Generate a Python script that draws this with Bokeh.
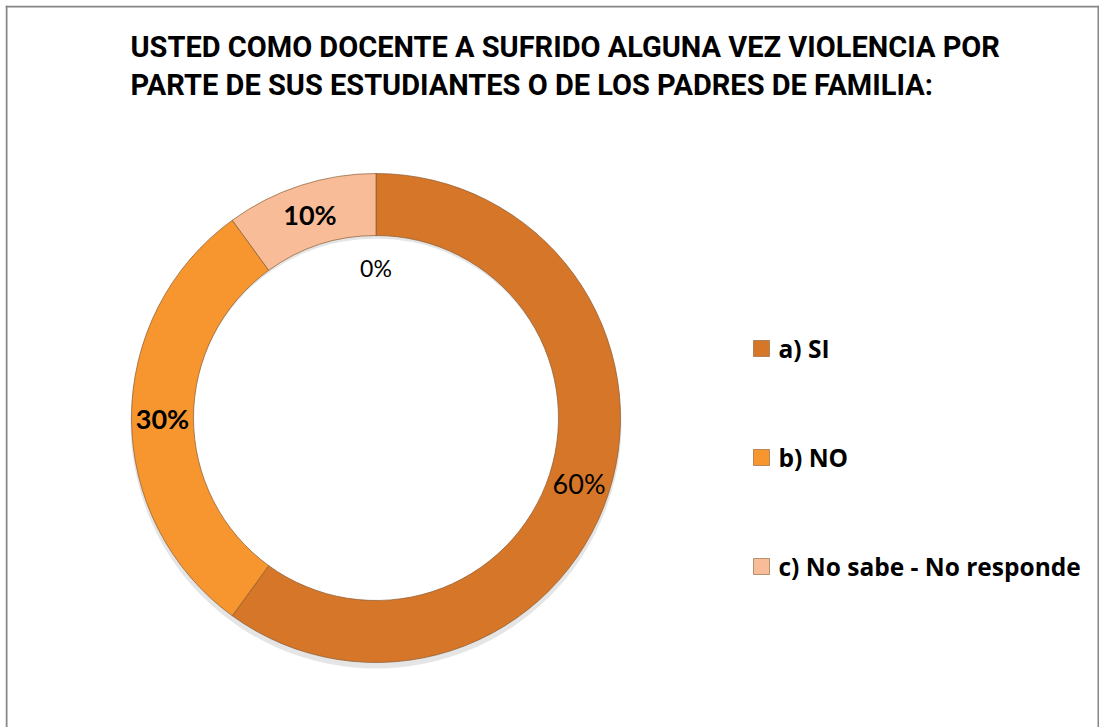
import numpy as np
from bokeh.plotting import figure
from bokeh.models import Range1d, ColumnDataSource, Span
from bokeh.core.properties import value
from bokeh.embed import file_html
from bokeh.resources import INLINE

# ---------------- data ----------------
title_lines = [
    "USTED COMO DOCENTE A SUFRIDO ALGUNA VEZ VIOLENCIA POR",
    "PARTE DE SUS ESTUDIANTES O DE LOS PADRES DE FAMILIA:",
]
categories = ["a) SI", "b) NO", "c) No sabe - No responde"]
values = [60, 30, 10]
pct_labels = ["60%", "30%", "10%"]
label_weights = ["normal", "bold", "bold"]
colors = ["#D67628", "#F7962F", "#F8BD98"]
zero_label = "0%"

# ---------------- layout ----------------
B = 5                 # border offset in screen px
FW, FH = 1094, 722    # frame size
FONT = "Lato"
TITLE_FONT = "Roboto"
LEG_FONT = "Open Sans"

p = figure(frame_width=FW, frame_height=FH,
           x_range=Range1d(B, B + FW), y_range=Range1d(727 - B - FH, 727 - B),
           output_backend="svg", toolbar_location=None,
           min_border_left=B, min_border_top=B, min_border_right=0, min_border_bottom=0)
p.axis.visible = False
p.grid.visible = False
p.outline_line_color = None
p.background_fill_color = "white"
p.border_fill_color = "white"

# chart-area border (left, right, top; bottom edge lies beyond the visible page)
for loc, dim in [(B + 1, "height"), (B + FW - 1, "height"), (727 - B - 1, "width")]:
    p.add_layout(Span(location=loc, dimension=dim, line_color="#868686", line_width=2))

def Y(py):
    return 727 - py

cx, cy = 375.5, Y(417.5)
r_out, r_in = 244.5, 182.5

vals = np.array(values, dtype=float)
frac = vals / vals.sum()
ends_cum = np.cumsum(frac)
starts_cum = ends_cum - frac
start_ang = np.pi / 2 - 2 * np.pi * starts_cum
end_ang = np.pi / 2 - 2 * np.pi * ends_cum
mid_ang = (start_ang + end_ang) / 2

src = ColumnDataSource(dict(start=start_ang, end=end_ang, color=colors, cat=categories))

# soft shadow
p.annular_wedge(x=cx, y=cy - 5, inner_radius=r_in + 2, outer_radius=r_out + 1,
                start_angle=0, end_angle=2 * np.pi, fill_color="#000000", fill_alpha=0.10,
                line_color=None)
p.annular_wedge(x=cx, y=cy, inner_radius=r_in, outer_radius=r_out,
                start_angle="start", end_angle="end", direction="clock",
                fill_color="color", line_color="#8a5a30", line_width=1, line_alpha=0.7,
                source=src)

# data labels
r_lab = (r_in + r_out) / 2
lx = cx + r_lab * np.cos(mid_ang)
ly = cy + r_lab * np.sin(mid_ang)
lab_src = ColumnDataSource(dict(x=lx, y=ly, t=pct_labels, w=label_weights))
p.text(x="x", y="y", text="t", source=lab_src, text_align="center", text_baseline="middle",
       text_font=value(FONT), text_font_size="27px", text_font_style="w", text_color="black")
p.text(x=[cx], y=[cy + 150], text=[zero_label], text_align="center", text_baseline="middle",
       text_font=value(FONT), text_font_size="23px", text_color="black")

# title
p.text(x=[130, 130], y=[Y(46), Y(84)], text=title_lines, text_align="left",
       text_baseline="middle", text_font=value(TITLE_FONT), text_font_size="29px",
       text_font_style="bold", text_color="black")

# legend
leg_py = np.array([348, 457, 566])
p.scatter(x=[761] * 3, y=Y(leg_py), marker="square", size=16, fill_color=colors,
          line_color="#8a5a30", line_alpha=0.6)
p.text(x=[778] * 3, y=Y(leg_py), text=categories, text_align="left", text_baseline="middle",
       text_font=value(LEG_FONT), text_font_size="24.5px", text_font_style="bold", text_color="black")

open("out.html", "w").write(file_html(p, INLINE))
